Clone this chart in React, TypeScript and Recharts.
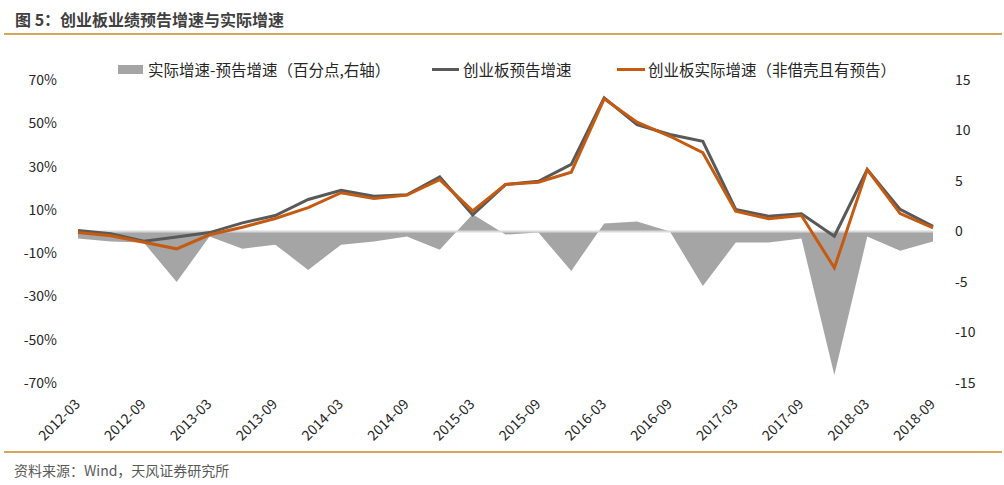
import React from 'react';
import {
    ComposedChart,
    Area,
    Line,
    XAxis,
    YAxis,
    ReferenceLine,
    Legend
} from 'recharts';

// quarterly dates, 2012-03 .. 2018-09
const DATES = [
    '2012-03', '2012-06', '2012-09', '2012-12',
    '2013-03', '2013-06', '2013-09', '2013-12',
    '2014-03', '2014-06', '2014-09', '2014-12',
    '2015-03', '2015-06', '2015-09', '2015-12',
    '2016-03', '2016-06', '2016-09', '2016-12',
    '2017-03', '2017-06', '2017-09', '2017-12',
    '2018-03', '2018-06', '2018-09'
];

// 创业板预告增速 (%)
const FORECAST = [
    0.5, -1, -4.5, -2.5, -0.5, 4, 7.4, 14.8, 19, 16.3, 17, 25.2, 7.7,
    21.7, 23.2, 31, 61.8, 49.4, 44.8, 41.7, 10.2, 7.1, 8.2, -2.2, 28.6, 10.2, 2.4
];

// 创业板实际增速（非借壳且有预告）(%)
const ACTUAL = [
    -0.5, -2, -5, -8, -1.5, 2, 6, 11, 17.9, 15.2, 16.8, 24, 9.5,
    21.7, 22.8, 27.4, 61.3, 50.5, 44, 36.4, 9.4, 5.9, 7.4, -16.8, 28.6, 8.3, 1.7
];

// 实际增速-预告增速 (百分点, 右轴)
const DIFF = [
    -0.7, -1.0, -1.1, -5.0, -0.5, -1.7, -1.3, -3.8, -1.3, -1.0, -0.5, -1.8, 1.7,
    -0.3, -0.1, -3.9, 0.8, 1.0, 0.0, -5.4, -1.1, -1.1, -0.7, -14.2, -0.5, -1.9, -1.0
];

const LEFT_TICKS = [-70, -50, -30, -10, 10, 30, 50, 70];
const RIGHT_TICKS = [-15, -10, -5, 0, 5, 10, 15];

const FONT = "'Noto Sans CJK SC', 'Noto Sans', sans-serif";
const GOLD = '#d2a95c';

const data = DATES.map((d, i) => ({
    date: d,
    forecast: FORECAST[i],
    actual: ACTUAL[i],
    diff: DIFF[i]
}));

function DateTick(props: any) {
    const { x, y, payload } = props;
    return (
        <text
            x={x + 3}
            y={y + 14}
            transform={`rotate(-45, ${x + 3}, ${y + 14})`}
            textAnchor="end"
            fill="#262626"
            fontSize={14}
            fontFamily={FONT}
        >
            {payload.value}
        </text>
    );
}

function ChartLegend() {
    const text: React.CSSProperties = {
        position: 'absolute',
        top: 0,
        fontSize: 15.5,
        lineHeight: '22px',
        color: '#262626',
        whiteSpace: 'nowrap',
        fontFamily: FONT
    };
    return (
        <div style={{ position: 'relative', width: 1004, height: 22 }}>
            <div style={{ position: 'absolute', left: 118, top: 7, width: 25, height: 9, background: '#a5a5a5' }} />
            <span style={{ ...text, left: 148 }}>实际增速-预告增速（百分点,右轴）</span>
            <div style={{ position: 'absolute', left: 432, top: 10, width: 27, height: 3, background: '#595959' }} />
            <span style={{ ...text, left: 463 }}>创业板预告增速</span>
            <div style={{ position: 'absolute', left: 617, top: 10, width: 28, height: 3, background: '#c55a11' }} />
            <span style={{ ...text, left: 648 }}>创业板实际增速（非借壳且有预告）</span>
        </div>
    );
}

export default function App() {
    return (
        <div style={{ position: 'absolute', left: 0, top: 0, width: 1004, height: 485, background: '#fff', fontFamily: FONT }}>
            <div style={{ position: 'absolute', left: 15, top: 7, fontSize: 16, fontWeight: 700, color: '#404040', whiteSpace: 'nowrap', lineHeight: '24px' }}>
                图 5：创业板业绩预告增速与实际增速
            </div>
            <div style={{ position: 'absolute', left: 4, top: 33, width: 998, height: 2, background: GOLD }} />

            <ComposedChart
                width={1004}
                height={485}
                data={data}
                margin={{ top: 80, right: 11, bottom: 42, left: 18 }}
            >
                <XAxis
                    dataKey="date"
                    scale="point"
                    interval={1}
                    axisLine={false}
                    tickLine={false}
                    height={60}
                    tick={<DateTick />}
                />
                <YAxis
                    yAxisId="left"
                    domain={[-70, 70]}
                    ticks={LEFT_TICKS}
                    width={60}
                    axisLine={false}
                    tickLine={false}
                    tickMargin={15}
                    tickFormatter={(v: number) => `${v}%`}
                    tick={{ fill: '#262626', fontSize: 14, fontFamily: FONT }}
                />
                <YAxis
                    yAxisId="right"
                    orientation="right"
                    domain={[-15, 15]}
                    ticks={RIGHT_TICKS}
                    width={60}
                    axisLine={false}
                    tickLine={false}
                    tickMargin={16}
                    tick={{ fill: '#262626', fontSize: 14, fontFamily: FONT, textAnchor: 'start' }}
                />
                <Legend
                    verticalAlign="middle"
                    align="center"
                    wrapperStyle={{ top: 58, left: 0, width: 1004 }}
                    content={() => <ChartLegend />}
                />
                <Area
                    yAxisId="right"
                    dataKey="diff"
                    type="linear"
                    fill="#a5a5a5"
                    fillOpacity={1}
                    stroke="none"
                    isAnimationActive={false}
                />
                <ReferenceLine yAxisId="left" y={0} stroke="#d9d9d9" strokeWidth={2} />
                <Line
                    yAxisId="left"
                    dataKey="forecast"
                    type="linear"
                    stroke="#595959"
                    strokeWidth={3}
                    dot={false}
                    isAnimationActive={false}
                />
                <Line
                    yAxisId="left"
                    dataKey="actual"
                    type="linear"
                    stroke="#c55a11"
                    strokeWidth={3}
                    dot={false}
                    isAnimationActive={false}
                />
            </ComposedChart>

            <div style={{ position: 'absolute', left: 4, top: 451, width: 998, height: 2, background: GOLD }} />
            <div style={{ position: 'absolute', left: 14, top: 459, fontSize: 14, color: '#595959', whiteSpace: 'nowrap', lineHeight: '22px' }}>
                资料来源：Wind，天风证券研究所
            </div>
        </div>
    );
}
